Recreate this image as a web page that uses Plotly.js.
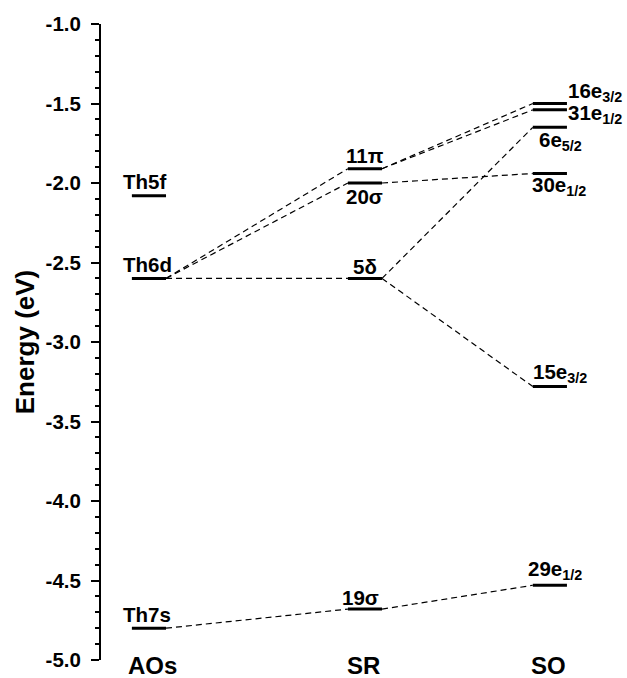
<!DOCTYPE html>
<html>
<head>
<meta charset="utf-8">
<script src="https://cdn.plot.ly/plotly-3.0.1.min.js"></script>
<style>
html,body{margin:0;padding:0;background:#fff;}
#chart{width:627px;height:678px;}
</style>
</head>
<body>
<div id="chart"></div>
<script>
// ---- data ----
var columns = ['AOs', 'SR', 'SO'];

var aoLabels = ['Th5f', 'Th6d', 'Th7s'];
var aoEnergies = [-2.08, -2.60, -4.80];

var srLabels = ['11π', '20σ', '5δ', '19σ'];
var srEnergies = [-1.91, -2.00, -2.60, -4.68];

var soLabels = ['16e<sub>3/2</sub>', '31e<sub>1/2</sub>', '6e<sub>5/2</sub>', '30e<sub>1/2</sub>', '15e<sub>3/2</sub>', '29e<sub>1/2</sub>'];
var soEnergies = [-1.50, -1.54, -1.65, -1.94, -3.28, -4.53];

// correlations: [index in left column, index in right column]
var aoToSr = [[1, 0], [1, 1], [1, 2], [2, 3]];
var srToSo = [[0, 0], [0, 1], [1, 3], [2, 2], [2, 4], [3, 5]];

var yTickVals = [-1.0, -1.5, -2.0, -2.5, -3.0, -3.5, -4.0, -4.5, -5.0];
var yTickText = ['-1.0', '-1.5', '-2.0', '-2.5', '-3.0', '-3.5', '-4.0', '-4.5', '-5.0'];

// ---- layout helpers (positions, not data) ----
var colX = [1.0, 2.0, 2.856];
var hw = 0.079;

var levelX = [], levelY = [];
function addLevels(ci, energies) {
  energies.forEach(function (e) {
    levelX.push(colX[ci] - hw, colX[ci] + hw, null);
    levelY.push(e, e, null);
  });
}
addLevels(0, aoEnergies);
addLevels(1, srEnergies);
addLevels(2, soEnergies);

var linkX = [], linkY = [];
function addLinks(ci, leftE, rightE, pairs) {
  pairs.forEach(function (p) {
    linkX.push(colX[ci] + hw, colX[ci + 1] - hw, null);
    linkY.push(leftE[p[0]], rightE[p[1]], null);
  });
}
addLinks(0, aoEnergies, srEnergies, aoToSr);
addLinks(1, srEnergies, soEnergies, srToSo);

var FONT = 'Liberation Sans, Arial, sans-serif';
var labFont = {family: FONT, size: 20.5, color: '#000', weight: 'bold'};

var annotations = [];
// AO labels: left aligned, above line
aoLabels.forEach(function (t, i) {
  annotations.push({x: colX[0] - hw, y: aoEnergies[i], xref: 'x', yref: 'y', text: t,
    showarrow: false, xanchor: 'left', yanchor: 'middle', xshift: -11, yshift: 14, font: labFont});
});
// SR labels
var srShift = [13, -13, 12, 12];
srLabels.forEach(function (t, i) {
  annotations.push({x: colX[1], y: srEnergies[i], xref: 'x', yref: 'y', text: t,
    showarrow: false, xanchor: 'center', yanchor: 'middle', xshift: (i === 3 ? -4 : 0), yshift: srShift[i], font: labFont});
});
// SO labels
var soAnchorX = [colX[2] + hw, colX[2] + hw, colX[2] - hw, colX[2] - hw, colX[2] - hw, colX[2] - hw];
var soXShift = [-1, -1, 4, -3, -2, -7];
var soYShift = [12, -4, -14, -13, 14, 15];
soLabels.forEach(function (t, i) {
  annotations.push({x: soAnchorX[i], y: soEnergies[i], xref: 'x', yref: 'y', text: t,
    showarrow: false, xanchor: 'left', yanchor: 'middle', xshift: soXShift[i], yshift: soYShift[i], font: labFont});
});
// column names at the bottom
columns.forEach(function (c, i) {
  annotations.push({x: colX[i], y: 0, xref: 'x', yref: 'paper', text: c,
    showarrow: false, xanchor: 'center', yanchor: 'middle', xshift: (i === 0 ? 4 : -1), yshift: -5,
    font: {family: FONT, size: 24, color: '#000', weight: 'bold'}});
});

var traces = [
  {x: linkX, y: linkY, mode: 'lines', type: 'scatter', hoverinfo: 'skip',
   line: {color: '#000', width: 1.2, dash: '6px,4px'}},
  {x: levelX, y: levelY, mode: 'lines', type: 'scatter', hoverinfo: 'skip',
   line: {color: '#000', width: 3}}
];

var layout = {
  width: 627, height: 678,
  margin: {l: 101, r: 0, t: 24, b: 18, pad: 0},
  paper_bgcolor: '#fff', plot_bgcolor: '#fff',
  showlegend: false,
  xaxis: {range: [0.778, 3.213], visible: false, fixedrange: true},
  yaxis: {
    range: [-5, -1], fixedrange: true,
    showgrid: false, zeroline: false,
    showline: true, linecolor: '#000', linewidth: 2,
    ticks: 'outside', ticklen: 8, tickwidth: 2, tickcolor: '#000',
    tickmode: 'array', tickvals: yTickVals, ticktext: yTickText,
    ticklabelstandoff: 6,
    tickfont: {family: FONT, size: 20.5, color: '#000', weight: 'bold'},
    minor: {tickmode: 'linear', tick0: -5, dtick: 0.1, ticks: 'outside', ticklen: 4, tickwidth: 2, tickcolor: '#000', showgrid: false},
    title: {text: 'Energy (eV)', standoff: 3, font: {family: FONT, size: 26, color: '#000', weight: 'bold'}}
  },
  annotations: annotations
};

Plotly.newPlot('chart', traces, layout, {displayModeBar: false, staticPlot: true});
</script>
</body>
</html>
